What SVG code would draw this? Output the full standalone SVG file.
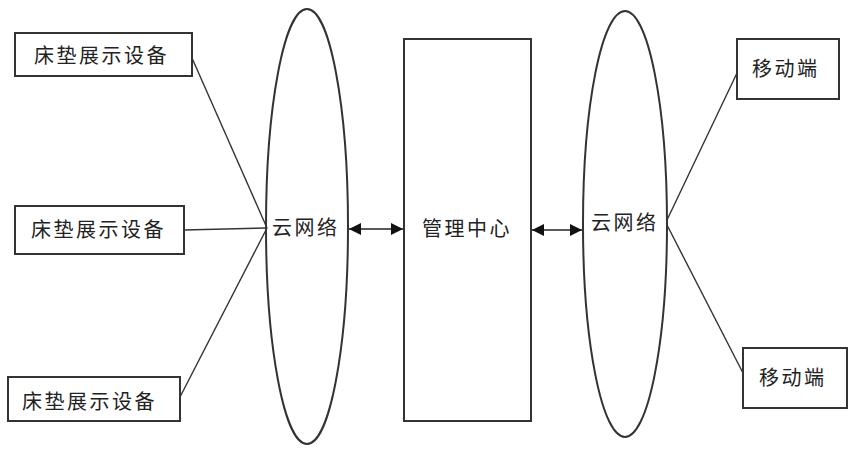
<svg xmlns="http://www.w3.org/2000/svg" width="866" height="452" viewBox="0 0 866 452">
<style>
.box{fill:#fff;stroke:#333;stroke-width:2}
.ell{fill:none;stroke:#333;stroke-width:2}
.ln{stroke:#333;stroke-width:1.4;fill:none}
.arr{stroke:#222;stroke-width:1.6;fill:none;marker-start:url(#ah);marker-end:url(#ah)}
text{font-family:"Noto Sans CJK SC","Noto Sans",sans-serif;font-size:20px;fill:#222;letter-spacing:2.5px;dominant-baseline:central}
</style>
<defs>
<marker id="ah" viewBox="0 0 10 10" refX="10" refY="5" markerWidth="14" markerHeight="12" markerUnits="userSpaceOnUse" orient="auto-start-reverse">
<path d="M0,0 L10,5 L0,10 Z" fill="#111"/>
</marker>
</defs>
<rect width="866" height="452" fill="#fff"/>
<g id="connectors">
<line class="ln" x1="192" y1="58" x2="267" y2="228"/>
<line class="ln" x1="184" y1="230" x2="267" y2="228"/>
<line class="ln" x1="180" y1="397" x2="267" y2="228"/>
<line class="ln" x1="667" y1="220" x2="737" y2="73"/>
<line class="ln" x1="667" y1="225" x2="743" y2="373"/>
<line class="arr" x1="349" y1="229" x2="403" y2="229"/>
<line class="arr" x1="532" y1="230" x2="582" y2="230"/>
</g>
<g id="bed1"><rect class="box" x="15" y="33" width="177" height="43"/><text x="34" y="54.5">床垫展示设备</text></g>
<g id="bed2"><rect class="box" x="15" y="206" width="169" height="48"/><text x="31" y="228.5">床垫展示设备</text></g>
<g id="bed3"><rect class="box" x="8" y="377" width="172" height="44"/><text x="22" y="400">床垫展示设备</text></g>
<g id="cloud1"><ellipse class="ell" cx="307" cy="226.5" rx="41" ry="217.5"/><text x="272" y="226">云网络</text></g>
<g id="center"><rect class="box" x="404" y="39" width="127" height="382"/><text x="422" y="227.5">管理中心</text></g>
<g id="cloud2"><ellipse class="ell" cx="625" cy="224" rx="42" ry="213"/><text x="591" y="221">云网络</text></g>
<g id="mobile1"><rect class="box" x="737" y="39" width="102" height="60"/><text x="752" y="67">移动端</text></g>
<g id="mobile2"><rect class="box" x="743" y="348" width="104" height="60"/><text x="759" y="376">移动端</text></g>
</svg>
